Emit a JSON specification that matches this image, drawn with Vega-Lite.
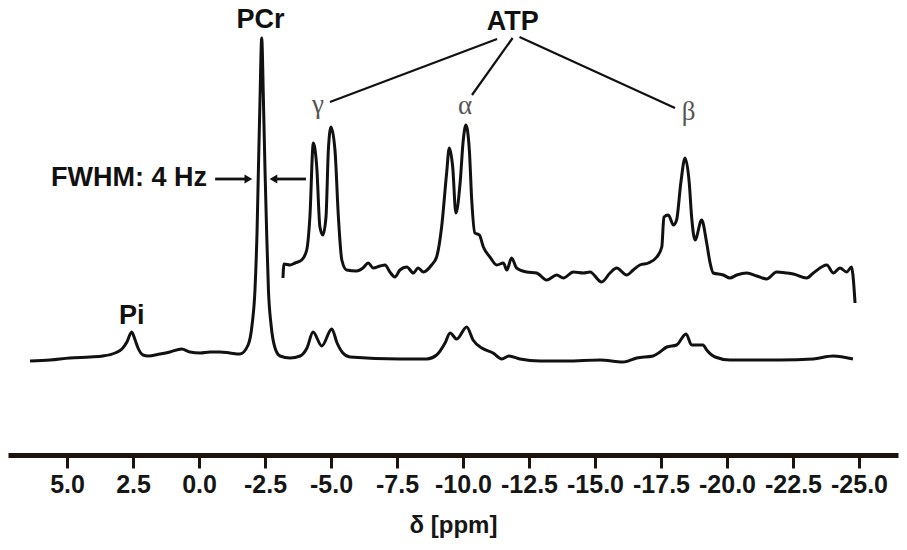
{
  "$schema": "https://vega.github.io/schema/vega-lite/v6.json",
  "autosize": "none",
  "width": 890,
  "height": 455,
  "padding": {"left": 8, "right": 9, "top": 0, "bottom": 95},
  "background": "white",
  "config": {"view": {"stroke": null}},
  "datasets": {
    "spectrum": [
      {"trace":"full","ppm":6.40,"intensity":-3},{"trace":"full","ppm":5.64,"intensity":-2},{"trace":"full","ppm":4.89,"intensity":0},{"trace":"full","ppm":4.13,"intensity":1},{"trace":"full","ppm":3.64,"intensity":2},{"trace":"full","ppm":3.18,"intensity":5},{"trace":"full","ppm":2.92,"intensity":9},{"trace":"full","ppm":2.73,"intensity":16},{"trace":"full","ppm":2.55,"intensity":26},{"trace":"full","ppm":2.42,"intensity":18},{"trace":"full","ppm":2.31,"intensity":10},{"trace":"full","ppm":2.12,"intensity":3},{"trace":"full","ppm":1.93,"intensity":2},{"trace":"full","ppm":1.48,"intensity":4},{"trace":"full","ppm":1.10,"intensity":6},{"trace":"full","ppm":0.66,"intensity":9},{"trace":"full","ppm":0.34,"intensity":6},{"trace":"full","ppm":-0.04,"intensity":5},{"trace":"full","ppm":-0.42,"intensity":6},{"trace":"full","ppm":-0.80,"intensity":6},{"trace":"full","ppm":-1.17,"intensity":5},{"trace":"full","ppm":-1.55,"intensity":4},{"trace":"full","ppm":-1.86,"intensity":13},{"trace":"full","ppm":-2.01,"intensity":33},{"trace":"full","ppm":-2.12,"intensity":68},{"trace":"full","ppm":-2.20,"intensity":128},{"trace":"full","ppm":-2.25,"intensity":188},{"trace":"full","ppm":-2.31,"intensity":258},{"trace":"full","ppm":-2.375,"intensity":320},{"trace":"full","ppm":-2.44,"intensity":258},{"trace":"full","ppm":-2.50,"intensity":188},{"trace":"full","ppm":-2.56,"intensity":128},{"trace":"full","ppm":-2.63,"intensity":68},{"trace":"full","ppm":-2.73,"intensity":33},{"trace":"full","ppm":-2.88,"intensity":10},{"trace":"full","ppm":-3.07,"intensity":2},{"trace":"full","ppm":-3.45,"intensity":0},{"trace":"full","ppm":-3.83,"intensity":2},{"trace":"full","ppm":-4.09,"intensity":10},{"trace":"full","ppm":-4.32,"intensity":26},{"trace":"full","ppm":-4.65,"intensity":12},{"trace":"full","ppm":-5.03,"intensity":29},{"trace":"full","ppm":-5.23,"intensity":15},{"trace":"full","ppm":-5.45,"intensity":5},{"trace":"full","ppm":-5.72,"intensity":1},{"trace":"full","ppm":-7.61,"intensity":-1},{"trace":"full","ppm":-8.63,"intensity":-1},{"trace":"full","ppm":-9.00,"intensity":3},{"trace":"full","ppm":-9.32,"intensity":15},{"trace":"full","ppm":-9.51,"intensity":25},{"trace":"full","ppm":-9.76,"intensity":19},{"trace":"full","ppm":-10.14,"intensity":31},{"trace":"full","ppm":-10.38,"intensity":18},{"trace":"full","ppm":-10.71,"intensity":10},{"trace":"full","ppm":-11.14,"intensity":5},{"trace":"full","ppm":-11.47,"intensity":-1},{"trace":"full","ppm":-11.74,"intensity":2},{"trace":"full","ppm":-12.16,"intensity":-1},{"trace":"full","ppm":-12.92,"intensity":-3},{"trace":"full","ppm":-13.93,"intensity":-3},{"trace":"full","ppm":-15.19,"intensity":-2},{"trace":"full","ppm":-16.06,"intensity":-4},{"trace":"full","ppm":-16.58,"intensity":0},{"trace":"full","ppm":-17.20,"intensity":2},{"trace":"full","ppm":-17.46,"intensity":6},{"trace":"full","ppm":-17.72,"intensity":11},{"trace":"full","ppm":-18.09,"intensity":13},{"trace":"full","ppm":-18.45,"intensity":24},{"trace":"full","ppm":-18.66,"intensity":13},{"trace":"full","ppm":-19.09,"intensity":13},{"trace":"full","ppm":-19.23,"intensity":8},{"trace":"full","ppm":-19.55,"intensity":1},{"trace":"full","ppm":-20.11,"intensity":-2},{"trace":"full","ppm":-22.01,"intensity":-2},{"trace":"full","ppm":-23.26,"intensity":-1},{"trace":"full","ppm":-24.02,"intensity":2},{"trace":"full","ppm":-24.77,"intensity":-1},
      {"trace":"expanded","ppm":-3.18,"intensity":80},{"trace":"expanded","ppm":-3.22,"intensity":94},{"trace":"expanded","ppm":-3.45,"intensity":93},{"trace":"expanded","ppm":-3.64,"intensity":95},{"trace":"expanded","ppm":-3.89,"intensity":98},{"trace":"expanded","ppm":-4.08,"intensity":108},{"trace":"expanded","ppm":-4.20,"intensity":141},{"trace":"expanded","ppm":-4.33,"intensity":215},{"trace":"expanded","ppm":-4.46,"intensity":191},{"trace":"expanded","ppm":-4.58,"intensity":131},{"trace":"expanded","ppm":-4.69,"intensity":123},{"trace":"expanded","ppm":-4.81,"intensity":141},{"trace":"expanded","ppm":-4.90,"intensity":208},{"trace":"expanded","ppm":-5.00,"intensity":231},{"trace":"expanded","ppm":-5.15,"intensity":208},{"trace":"expanded","ppm":-5.28,"intensity":141},{"trace":"expanded","ppm":-5.41,"intensity":98},{"trace":"expanded","ppm":-5.59,"intensity":88},{"trace":"expanded","ppm":-5.97,"intensity":87},{"trace":"expanded","ppm":-6.21,"intensity":90},{"trace":"expanded","ppm":-6.41,"intensity":95},{"trace":"expanded","ppm":-6.60,"intensity":90},{"trace":"expanded","ppm":-6.86,"intensity":92},{"trace":"expanded","ppm":-7.05,"intensity":93},{"trace":"expanded","ppm":-7.23,"intensity":86},{"trace":"expanded","ppm":-7.42,"intensity":81},{"trace":"expanded","ppm":-7.61,"intensity":88},{"trace":"expanded","ppm":-7.87,"intensity":91},{"trace":"expanded","ppm":-8.12,"intensity":85},{"trace":"expanded","ppm":-8.30,"intensity":90},{"trace":"expanded","ppm":-8.50,"intensity":86},{"trace":"expanded","ppm":-8.81,"intensity":93},{"trace":"expanded","ppm":-9.00,"intensity":101},{"trace":"expanded","ppm":-9.19,"intensity":131},{"trace":"expanded","ppm":-9.38,"intensity":185},{"trace":"expanded","ppm":-9.48,"intensity":210},{"trace":"expanded","ppm":-9.61,"intensity":191},{"trace":"expanded","ppm":-9.73,"intensity":145},{"trace":"expanded","ppm":-9.89,"intensity":175},{"trace":"expanded","ppm":-10.01,"intensity":218},{"trace":"expanded","ppm":-10.11,"intensity":233},{"trace":"expanded","ppm":-10.24,"intensity":208},{"trace":"expanded","ppm":-10.33,"intensity":158},{"trace":"expanded","ppm":-10.45,"intensity":125},{"trace":"expanded","ppm":-10.62,"intensity":123},{"trace":"expanded","ppm":-10.77,"intensity":111},{"trace":"expanded","ppm":-11.02,"intensity":101},{"trace":"expanded","ppm":-11.28,"intensity":93},{"trace":"expanded","ppm":-11.53,"intensity":95},{"trace":"expanded","ppm":-11.66,"intensity":88},{"trace":"expanded","ppm":-11.84,"intensity":100},{"trace":"expanded","ppm":-12.03,"intensity":90},{"trace":"expanded","ppm":-12.41,"intensity":86},{"trace":"expanded","ppm":-12.79,"intensity":85},{"trace":"expanded","ppm":-13.17,"intensity":78},{"trace":"expanded","ppm":-13.55,"intensity":83},{"trace":"expanded","ppm":-13.80,"intensity":80},{"trace":"expanded","ppm":-14.18,"intensity":86},{"trace":"expanded","ppm":-14.56,"intensity":85},{"trace":"expanded","ppm":-14.81,"intensity":86},{"trace":"expanded","ppm":-15.25,"intensity":76},{"trace":"expanded","ppm":-15.57,"intensity":85},{"trace":"expanded","ppm":-15.82,"intensity":90},{"trace":"expanded","ppm":-16.20,"intensity":83},{"trace":"expanded","ppm":-16.45,"intensity":88},{"trace":"expanded","ppm":-16.70,"intensity":93},{"trace":"expanded","ppm":-17.02,"intensity":95},{"trace":"expanded","ppm":-17.34,"intensity":101},{"trace":"expanded","ppm":-17.53,"intensity":111},{"trace":"expanded","ppm":-17.61,"intensity":141},{"trace":"expanded","ppm":-17.78,"intensity":143},{"trace":"expanded","ppm":-17.97,"intensity":133},{"trace":"expanded","ppm":-18.09,"intensity":138},{"trace":"expanded","ppm":-18.25,"intensity":175},{"trace":"expanded","ppm":-18.41,"intensity":200},{"trace":"expanded","ppm":-18.57,"intensity":175},{"trace":"expanded","ppm":-18.66,"intensity":141},{"trace":"expanded","ppm":-18.79,"intensity":118},{"trace":"expanded","ppm":-19.04,"intensity":138},{"trace":"expanded","ppm":-19.23,"intensity":115},{"trace":"expanded","ppm":-19.36,"intensity":95},{"trace":"expanded","ppm":-19.48,"intensity":85},{"trace":"expanded","ppm":-19.86,"intensity":83},{"trace":"expanded","ppm":-20.11,"intensity":80},{"trace":"expanded","ppm":-20.37,"intensity":83},{"trace":"expanded","ppm":-20.75,"intensity":85},{"trace":"expanded","ppm":-21.13,"intensity":82},{"trace":"expanded","ppm":-21.50,"intensity":79},{"trace":"expanded","ppm":-21.88,"intensity":86},{"trace":"expanded","ppm":-22.26,"intensity":85},{"trace":"expanded","ppm":-22.51,"intensity":84},{"trace":"expanded","ppm":-23.02,"intensity":80},{"trace":"expanded","ppm":-23.27,"intensity":85},{"trace":"expanded","ppm":-23.78,"intensity":93},{"trace":"expanded","ppm":-24.03,"intensity":85},{"trace":"expanded","ppm":-24.28,"intensity":90},{"trace":"expanded","ppm":-24.53,"intensity":86},{"trace":"expanded","ppm":-24.72,"intensity":91},{"trace":"expanded","ppm":-24.77,"intensity":83},{"trace":"expanded","ppm":-24.85,"intensity":55}
    ],
    "connectors": [
      {"ppm":-11.29,"intensity":319,"ppm2":-4.96,"intensity2":256},
      {"ppm":-11.88,"intensity":320,"ppm2":-10.34,"intensity2":263},
      {"ppm":-12.14,"intensity":321,"ppm2":-18.03,"intensity2":250}
    ],
    "shafts": [
      {"ppm":-0.61,"intensity":179,"ppm2":-1.80,"intensity2":179},
      {"ppm":-4.05,"intensity":179,"ppm2":-2.88,"intensity2":179}
    ],
    "heads": [
      {"ppm":-1.87,"intensity":179,"dir":"right"},
      {"ppm":-2.82,"intensity":179,"dir":"left"}
    ],
    "labels": [
      {"label":"PCr","ppm":-2.33,"intensity":338,"align":"center"},
      {"label":"ATP","ppm":-11.88,"intensity":336,"align":"center"},
      {"label":"Pi","ppm":2.55,"intensity":42,"align":"center"},
      {"label":"FWHM: 4 Hz","ppm":-0.30,"intensity":180,"align":"right"}
    ],
    "greek": [
      {"label":"γ","ppm":-4.51,"intensity":245},
      {"label":"α","ppm":-10.08,"intensity":244.5},
      {"label":"β","ppm":-18.55,"intensity":238.5}
    ]
  },
  "layer": [
    {
      "data": {"name": "spectrum"},
      "mark": {"type": "line", "color": "#111111", "strokeWidth": 3, "interpolate": "monotone", "strokeJoin": "round"},
      "encoding": {
        "x": {
          "field": "ppm", "type": "quantitative",
          "scale": {"domain": [7.235, -26.477], "nice": false, "zero": false},
          "axis": {
            "values": [5, 2.5, 0, -2.5, -5, -7.5, -10, -12.5, -15, -17.5, -20, -22.5, -25],
            "labelExpr": "(datum.value < 0 ? '-' : '') + format(abs(datum.value), '.1f')",
            "labelOverlap": false, "labelBound": false, "labelFlush": false,
            "grid": false,
            "domainColor": "#1c130c", "domainWidth": 5,
            "tickColor": "#1c130c", "tickWidth": 3, "tickSize": 13,
            "labelFont": "Liberation Sans", "labelFontWeight": "bold", "labelFontSize": 25, "labelColor": "#161616", "labelPadding": 4,
            "title": "δ [ppm]",
            "titleFont": "Liberation Sans", "titleFontWeight": "bold", "titleFontSize": 24, "titleColor": "#161616", "titlePadding": 16
          }
        },
        "y": {"field": "intensity", "type": "quantitative", "scale": {"domain": [-97, 358], "nice": false, "zero": false}, "axis": null},
        "detail": {"field": "trace"}
      }
    },
    {
      "data": {"name": "connectors"},
      "mark": {"type": "rule", "color": "#111111", "strokeWidth": 2.2},
      "encoding": {
        "x": {"field": "ppm", "type": "quantitative"},
        "x2": {"field": "ppm2"},
        "y": {"field": "intensity", "type": "quantitative"},
        "y2": {"field": "intensity2"}
      }
    },
    {
      "data": {"name": "shafts"},
      "mark": {"type": "rule", "color": "#111111", "strokeWidth": 2.8},
      "encoding": {
        "x": {"field": "ppm", "type": "quantitative"},
        "x2": {"field": "ppm2"},
        "y": {"field": "intensity", "type": "quantitative"},
        "y2": {"field": "intensity2"}
      }
    },
    {
      "data": {"name": "heads"},
      "mark": {"type": "point", "filled": true, "color": "#111111", "size": 80, "opacity": 1},
      "encoding": {
        "x": {"field": "ppm", "type": "quantitative"},
        "y": {"field": "intensity", "type": "quantitative"},
        "shape": {"field": "dir", "type": "nominal", "scale": {"domain": ["right", "left"], "range": ["triangle-right", "triangle-left"]}, "legend": null}
      }
    },
    {
      "data": {"name": "labels"},
      "transform": [{"filter": "datum.align == 'center'"}],
      "mark": {"type": "text", "font": "Liberation Sans", "fontWeight": "bold", "fontSize": 27, "color": "#111111", "baseline": "middle", "align": "center"},
      "encoding": {
        "x": {"field": "ppm", "type": "quantitative"},
        "y": {"field": "intensity", "type": "quantitative"},
        "text": {"field": "label"}
      }
    },
    {
      "data": {"name": "labels"},
      "transform": [{"filter": "datum.align == 'right'"}],
      "mark": {"type": "text", "font": "Liberation Sans", "fontWeight": "bold", "fontSize": 27, "color": "#111111", "baseline": "middle", "align": "right"},
      "encoding": {
        "x": {"field": "ppm", "type": "quantitative"},
        "y": {"field": "intensity", "type": "quantitative"},
        "text": {"field": "label"}
      }
    },
    {
      "data": {"name": "greek"},
      "mark": {"type": "text", "font": "Liberation Serif", "fontSize": 27, "color": "#555555", "baseline": "alphabetic", "align": "center"},
      "encoding": {
        "x": {"field": "ppm", "type": "quantitative"},
        "y": {"field": "intensity", "type": "quantitative"},
        "text": {"field": "label"}
      }
    }
  ]
}
